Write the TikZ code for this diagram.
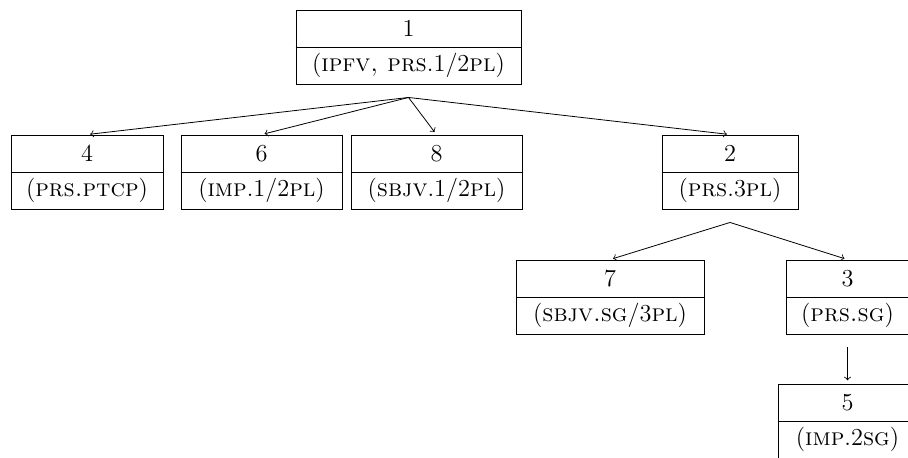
\documentclass[tikz,border=0pt]{standalone}
\usetikzlibrary{calc}
\tikzset{
  boxframe/.style={draw, rectangle, inner sep=0pt, minimum height=37pt, line width=0.45pt},
  boxtext/.style={inner sep=0pt, font=\fontsize{12.2}{14}\selectfont},
  branch/.style={->, line width=0.4pt, shorten >=1.6pt},
}
\newcommand\featbox[6]{%
  \node[boxframe, minimum width=0.5*#4pt] (#1) at (#2,#3) {};
  \draw[line width=0.45pt] (#1.west) -- (#1.east);
  \node[boxtext] (#1-num) at ($(#1.center)!0.5!(#1.north)$) {#5};
  \node[boxtext] (#1-lab) at ($(#1.center)!0.5!(#1.south)$) {#6};
}
\begin{document}
\begin{tikzpicture}[x=0.5pt, y=-0.5pt]
\useasboundingbox (0,0) rectangle (908,457);
\featbox{n1}{408.5}{47}{225}{1}{(\textsc{ipfv, prs}.1/2\textsc{pl})}
\featbox{n4}{87}{172}{152}{4}{(\textsc{prs.ptcp})}
\featbox{n6}{261.5}{172}{161}{6}{(\textsc{imp}.1/2\textsc{pl})}
\featbox{n8}{436.5}{172}{171}{8}{(\textsc{sbjv}.1/2\textsc{pl})}
\featbox{n2}{730}{172}{136}{2}{(\textsc{prs}.3\textsc{pl})}
\featbox{n7}{610}{297}{188}{7}{(\textsc{sbjv.sg}/3\textsc{pl})}
\featbox{n3}{847.5}{297}{122}{3}{(\textsc{prs.sg})}
\featbox{n5}{847.5}{421}{138}{5}{(\textsc{imp}.2\textsc{sg})}
\coordinate (j1) at ($(n1.south)+(0,13)$);
\coordinate (j2) at ($(n2.south)+(0,13)$);
\coordinate (j3) at ($(n3.south)+(0,13)$);
\draw[branch] (j1) -- (n4.north);
\draw[branch] (j1) -- (n6.north);
\draw[branch] (j1) -- (n8.north);
\draw[branch] (j1) -- (n2.north);
\draw[branch] (j2) -- (n7.north);
\draw[branch] (j2) -- (n3.north);
\draw[branch] (j3) -- (n5.north);
\end{tikzpicture}
\end{document}
